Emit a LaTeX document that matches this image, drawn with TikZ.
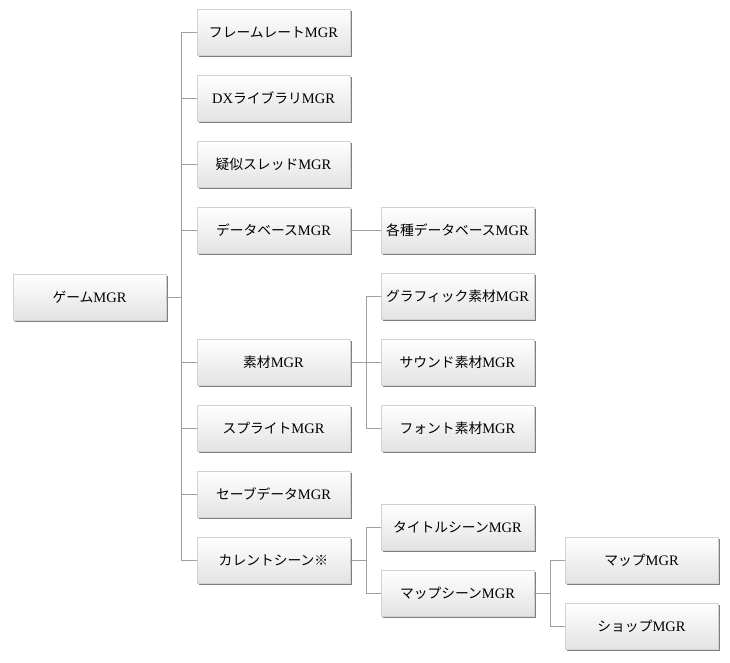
\documentclass[tikz,border=0pt]{standalone}
\usepackage{fontspec}
\setmainfont{Liberation Serif}
\newfontfamily\cjk{Noto Sans CJK JP}[Scale=0.95]
\usetikzlibrary{shadows}
\tikzset{
  mgrbox/.style={draw=gray!35, line width=0.4pt, top color=white, bottom color=gray!22,
    minimum width=153pt, minimum height=46pt, inner sep=0pt,
    font=\fontsize{14.5}{16}\selectfont,
    drop shadow={shadow xshift=1.6pt, shadow yshift=-2.2pt, fill=black, opacity=0.5}},
  link/.style={draw=gray!75, line width=0.8pt}
}
\begin{document}
\begin{tikzpicture}[x=1pt,y=-1pt]
\useasboundingbox (0,0) rectangle (730,663);
% column 1
\node[mgrbox] (game) at (89.5,297) {{\cjk ゲーム}MGR};
% column 2
\node[mgrbox] (fr) at (273.5,32) {{\cjk フレームレート}MGR};
\node[mgrbox] (dx) at (273.5,98) {DX{\cjk ライブラリ}MGR};
\node[mgrbox] (th) at (273.5,164) {{\cjk 疑似スレッド}MGR};
\node[mgrbox] (db) at (273.5,230) {{\cjk データベース}MGR};
\node[mgrbox] (mat) at (273.5,362) {{\cjk 素材}MGR};
\node[mgrbox] (spr) at (273.5,428) {{\cjk スプライト}MGR};
\node[mgrbox] (sav) at (273.5,494) {{\cjk セーブデータ}MGR};
\node[mgrbox] (cur) at (273.5,560) {{\cjk カレントシーン※}};
% column 3
\node[mgrbox] (dbs) at (457.5,230) {{\cjk 各種データベース}MGR};
\node[mgrbox] (gfx) at (457.5,296) {{\cjk グラフィック素材}MGR};
\node[mgrbox] (snd) at (457.5,362) {{\cjk サウンド素材}MGR};
\node[mgrbox] (fnt) at (457.5,428) {{\cjk フォント素材}MGR};
\node[mgrbox] (ttl) at (457.5,527) {{\cjk タイトルシーン}MGR};
\node[mgrbox] (mps) at (457.5,593) {{\cjk マップシーン}MGR};
% column 4
\node[mgrbox] (map) at (641.5,560) {{\cjk マップ}MGR};
\node[mgrbox] (shp) at (641.5,626) {{\cjk ショップ}MGR};
% connectors
\coordinate (j1) at (181.5,297);
\draw[link] (game.east) -- (j1);
\foreach \n in {fr,dx,th,db,mat,spr,sav,cur} \draw[link] (j1) |- (\n.west);
\draw[link] (db.east) -- (dbs.west);
\coordinate (j2) at (366,362);
\draw[link] (mat.east) -- (j2);
\foreach \n in {gfx,snd,fnt} \draw[link] (j2) |- (\n.west);
\coordinate (j3) at (366,560);
\draw[link] (cur.east) -- (j3);
\foreach \n in {ttl,mps} \draw[link] (j3) |- (\n.west);
\coordinate (j4) at (550,593);
\draw[link] (mps.east) -- (j4);
\foreach \n in {map,shp} \draw[link] (j4) |- (\n.west);
\end{tikzpicture}
\end{document}
